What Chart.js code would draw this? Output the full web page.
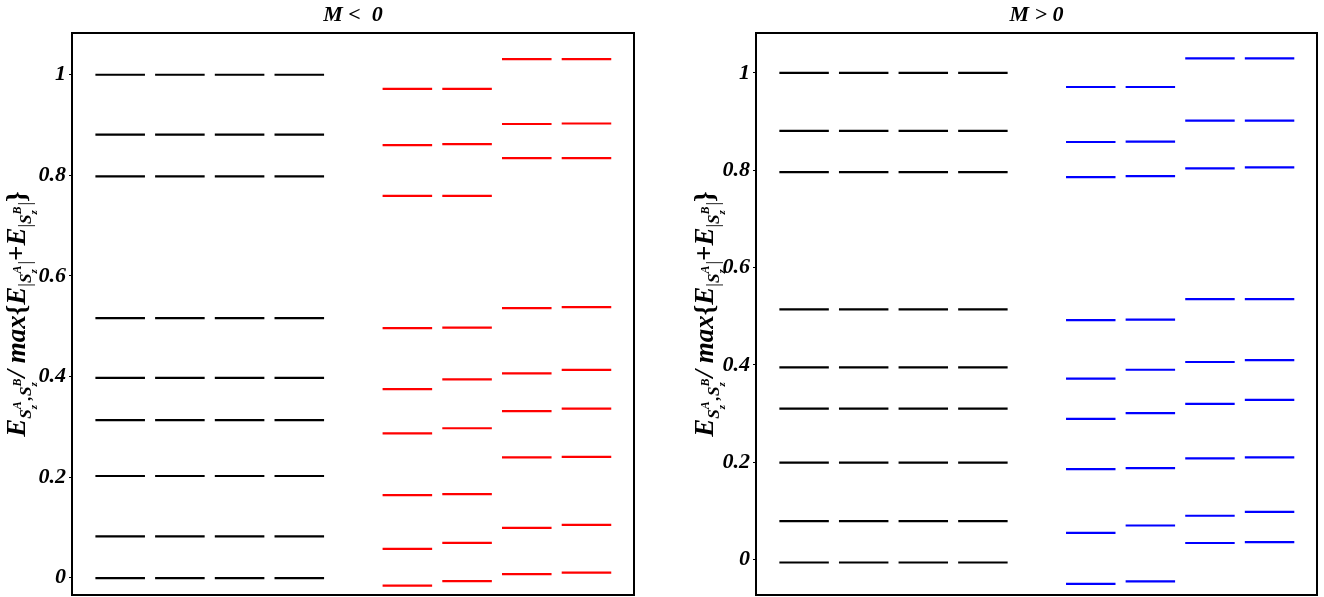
<!DOCTYPE html>
<html><head><meta charset="utf-8">
<script src="https://cdn.jsdelivr.net/npm/chart.js@4/dist/chart.umd.min.js"></script>
<style>
html,body{margin:0;padding:0;background:#fff;}
#wrap{position:relative;width:1324px;height:597px;overflow:hidden;}
canvas{position:absolute;top:0;}
</style></head><body>
<div id="wrap">
<canvas id="c1" width="662" height="597" style="left:0"></canvas>
<canvas id="c2" width="662" height="597" style="left:662px"></canvas>
</div>
<script>
// ---------- data ----------
const panelTitles = ['M <  0', 'M > 0'];
const yTickValues = [0, 0.2, 0.4, 0.6, 0.8, 1];

// M < 0 panel
const blackLevelsLeft = [-0.001, 0.082, 0.202, 0.313, 0.397, 0.516, 0.798, 0.881, 1.0];
const redCol1 = [-0.016, 0.057, 0.164, 0.287, 0.375, 0.496, 0.759, 0.860, 0.972];
const redCol2 = [-0.007, 0.069, 0.166, 0.297, 0.394, 0.497, 0.759, 0.862, 0.972];
const redCol3 = [0.007, 0.099, 0.239, 0.331, 0.406, 0.536, 0.834, 0.902, 1.031];
const redCol4 = [0.010, 0.105, 0.240, 0.336, 0.413, 0.538, 0.834, 0.903, 1.031];

// M > 0 panel
const blackLevelsRight = [-0.006, 0.079, 0.199, 0.310, 0.395, 0.514, 0.796, 0.881, 1.0];
const blueCol1 = [-0.050, 0.055, 0.186, 0.289, 0.372, 0.492, 0.786, 0.858, 0.971];
const blueCol2 = [-0.045, 0.070, 0.188, 0.301, 0.390, 0.493, 0.788, 0.859, 0.971];
const blueCol3 = [0.034, 0.090, 0.208, 0.320, 0.406, 0.535, 0.804, 0.902, 1.030];
const blueCol4 = [0.036, 0.098, 0.210, 0.328, 0.410, 0.535, 0.806, 0.902, 1.030];

// ---------- layout (not data) ----------
const columnCenters = [1, 2, 3, 4, 5.81, 6.81, 7.81, 8.81];
const halfWidth = 0.415;
const xRange = [0.193, 9.606];
const yRanges = [[-0.0346, 1.083], [-0.0728, 1.082]];
const FAM = '"Liberation Serif", "Times New Roman", serif';

function columnData(center, levels) {
  const out = [];
  levels.forEach(v => {
    out.push({x: center - halfWidth, y: v});
    out.push({x: center + halfWidth, y: v});
    out.push({x: center + halfWidth, y: null});
  });
  return out;
}

function makeDatasets(cols, colors) {
  return cols.map((levels, i) => ({
    data: columnData(columnCenters[i], levels),
    borderColor: colors[i],
    backgroundColor: colors[i],
    borderWidth: 2.2,
    pointRadius: 0,
    showLine: true,
    spanGaps: false,
    borderCapStyle: 'butt'
  }));
}

// rich vertical axis label
const M = 27, sub = 17, tiny = 11, sup = 12;
const labelPieces = [
  {t:'E', size:M},
  {t:'S', size:sub, dy:6},
  {stack:[{t:'z', size:tiny, dy:12}, {t:'A', size:sup, dy:-4}]},
  {t:',', size:sub, dy:6},
  {t:'S', size:sub, dy:6},
  {stack:[{t:'z', size:tiny, dy:12}, {t:'B', size:sup, dy:-4}]},
  {t:'/ ', size:M},
  {t:'max', size:M},
  {t:'{', size:M, style:'normal'},
  {t:'E', size:M},
  {t:'|', size:18, dy:6, style:'normal', weight:'normal'},
  {t:'S', size:sub, dy:6},
  {stack:[{t:'z', size:tiny, dy:12}, {t:'A', size:sup, dy:-4}]},
  {t:'|', size:18, dy:6, style:'normal', weight:'normal'},
  {t:'+', size:M, style:'normal'},
  {t:'E', size:M},
  {t:'|', size:18, dy:6, style:'normal', weight:'normal'},
  {t:'S', size:sub, dy:6},
  {stack:[{t:'z', size:tiny, dy:12}, {t:'B', size:sup, dy:-4}]},
  {t:'|', size:18, dy:6, style:'normal', weight:'normal'},
  {t:'}', size:M, style:'normal'}
];
function pf(p){ return `${p.style||'italic'} ${p.weight||'bold'} ${p.size}px ${FAM}`; }
function drawRichVertical(ctx, pieces, bx, cy) {
  const widths = pieces.map(p => {
    if (p.stack) {
      let w = 0;
      p.stack.forEach(q => { ctx.font = pf(q); w = Math.max(w, ctx.measureText(q.t).width); });
      return w + 1;
    }
    ctx.font = pf(p); return ctx.measureText(p.t).width;
  });
  const total = widths.reduce((a, b) => a + b, 0);
  ctx.save();
  ctx.translate(bx, cy);
  ctx.rotate(-Math.PI / 2);
  ctx.fillStyle = '#000';
  ctx.textBaseline = 'alphabetic';
  ctx.textAlign = 'left';
  let x = -total / 2;
  pieces.forEach((p, i) => {
    (p.stack || [p]).forEach(q => { ctx.font = pf(q); ctx.fillText(q.t, x, q.dy || 0); });
    x += widths[i];
  });
  ctx.restore();
}

function framePlugin(title, labelX) {
  return {
    id: 'frame',
    afterDatasetsDraw(chart) {
      const {ctx, chartArea: a} = chart;
      ctx.save();
      ctx.strokeStyle = '#000';
      ctx.lineWidth = 2;
      ctx.strokeRect(a.left, a.top, a.right - a.left, a.bottom - a.top);
      ctx.fillStyle = '#000';
      ctx.font = `italic bold 22px ${FAM}`;
      ctx.textAlign = 'center';
      ctx.textBaseline = 'middle';
      ctx.fillText(title, (a.left + a.right) / 2, 15);
      ctx.restore();
      drawRichVertical(ctx, labelPieces, labelX, (a.top + a.bottom) / 2);
    }
  };
}

function makeChart(id, datasets, yRange, yWidth, padRight, title, labelX) {
  new Chart(document.getElementById(id), {
    type: 'scatter',
    data: {datasets},
    options: {
      responsive: false,
      animation: false,
      events: [],
      layout: {padding: {top: 33, bottom: 2, left: 0, right: padRight}},
      plugins: {legend: {display: false}, tooltip: {enabled: false}, title: {display: false}},
      scales: {
        x: {type: 'linear', display: false, min: xRange[0], max: xRange[1]},
        y: {
          type: 'linear', min: yRange[0], max: yRange[1],
          afterFit(s) { s.width = yWidth; s.paddingTop = 0; s.paddingBottom = 0; },
          afterBuildTicks(s) { s.ticks = yTickValues.map(v => ({value: v})); },
          ticks: {
            color: '#000', padding: 3,
            font: {family: FAM, size: 22, style: 'italic', weight: 'bold'},
            callback: v => String(v)
          },
          grid: {drawOnChartArea: false, drawTicks: true, tickLength: 3, color: '#000', lineWidth: 1},
          border: {display: false}
        }
      }
    },
    plugins: [framePlugin(title, labelX)]
  });
}

const black = '#000000', red = '#ff0000', blue = '#0000ff';
makeChart('c1',
  makeDatasets([blackLevelsLeft, blackLevelsLeft, blackLevelsLeft, blackLevelsLeft, redCol1, redCol2, redCol3, redCol4],
               [black, black, black, black, red, red, red, red]),
  yRanges[0], 72, 28, panelTitles[0], 25);
makeChart('c2',
  makeDatasets([blackLevelsRight, blackLevelsRight, blackLevelsRight, blackLevelsRight, blueCol1, blueCol2, blueCol3, blueCol4],
               [black, black, black, black, blue, blue, blue, blue]),
  yRanges[1], 94, 7, panelTitles[1], 51);
</script>
</body></html>
